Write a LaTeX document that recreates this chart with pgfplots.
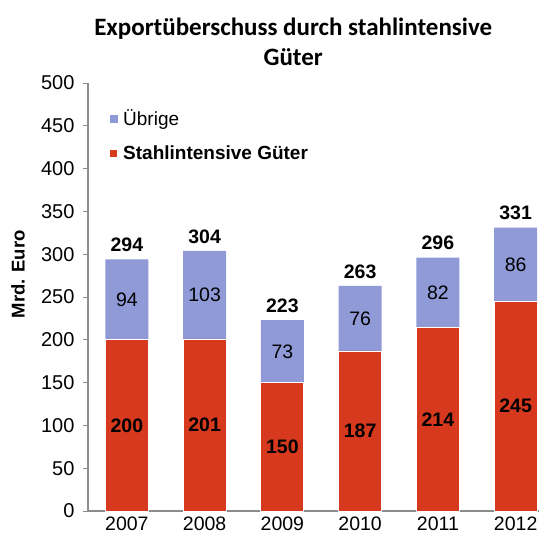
\documentclass[border=0pt]{standalone}
\usepackage{pgfplots}
\usepackage{pgfplotstable}
\pgfplotsset{compat=1.18}
\usepackage{fontspec}
\setmainfont{Liberation Sans}
\newfontfamily\titlefont{Carlito}
\definecolor{redbar}{RGB}{214,57,30}
\definecolor{bluebar}{RGB}{143,154,215}
\definecolor{axgray}{RGB}{140,140,140}

\pgfplotstableread{
x red blue total
0 200 94 294
1 201 103 304
2 150 73 223
3 187 76 263
4 214 82 296
5 245 86 331
}\datatable

\begin{document}
\begin{tikzpicture}
\path[use as bounding box] (-88pt,-25pt) rectangle (451pt,511pt);
\begin{axis}[
  at={(0pt,0pt)}, anchor=south west,
  scale only axis,
  width=451pt, height=428pt,
  xmin=-0.5, xmax=5.3,
  ymin=0, ymax=500,
  ytick={0,50,...,500},
  xtick={0,1,2,3,4,5},
  xticklabels={2007,2008,2009,2010,2011,2012},
  axis lines*=left,
  axis line style={axgray, line width=1.2pt},
  ytick style={axgray, line width=0.8pt},
  xtick style={draw=none},
  tick align=outside,
  major tick length=5pt,
  yticklabel style={xshift=-5pt},
  xticklabel style={inner ysep=1pt, yshift=0pt, font=\fontsize{19.5}{21}\selectfont},
  /pgf/number format/assume math mode=true,
  yticklabel style={font=\fontsize{20}{23}\selectfont},
  ylabel={\textbf{Mrd. Euro}},
  ylabel style={at={(axis description cs:-0.155,0.553)}, anchor=center, rotate=0, font=\fontsize{18.5}{22}\selectfont},
  title={Exportüberschuss durch stahlintensive\\Güter},
  title style={at={(axis description cs:0.455,1.083)}, anchor=center, align=center, font=\titlefont\bfseries\fontsize{25}{30}\selectfont},
  legend style={at={(axis description cs:0.047,0.942)}, anchor=north west, draw=none, fill=none,
    font=\fontsize{19}{22}\selectfont, row sep=14pt, inner sep=0pt},
  legend cell align=left,
  clip=false,
]
\addplot[ybar, bar width=0.553, fill=bluebar, draw=none,
  legend image code/.code={\path[fill=bluebar] (0pt,-4pt) rectangle (8pt,4pt); \path (11pt,0pt);}]
  table[x=x, y=total] {\datatable};
\addlegendentry{Übrige}
\addplot[ybar, bar width=0.553, fill=redbar, draw=white, line width=0.8pt,
  legend image code/.code={\path[fill=redbar] (0pt,-4pt) rectangle (8pt,4pt); \path (11pt,0pt);}]
  table[x=x, y=red] {\datatable};
\addlegendentry{\textbf{Stahlintensive Güter}}
% labels red segment
\addplot[forget plot, draw=none, mark=none, nodes near coords, point meta=explicit symbolic,
  every node near coord/.style={anchor=center, font=\bfseries\fontsize{19.5}{22}\selectfont}]
  table[x=x, y expr=\thisrow{red}/2, meta=red] {\datatable};
% labels blue segment
\addplot[forget plot, draw=none, mark=none, nodes near coords, point meta=explicit symbolic,
  every node near coord/.style={anchor=center, font=\fontsize{19.5}{22}\selectfont}]
  table[x=x, y expr=\thisrow{red}+\thisrow{blue}/2, meta=blue] {\datatable};
% totals
\addplot[forget plot, draw=none, mark=none, nodes near coords, point meta=explicit symbolic,
  every node near coord/.style={anchor=south, yshift=4pt, font=\bfseries\fontsize{19.5}{22}\selectfont}]
  table[x=x, y=total, meta=total] {\datatable};
\end{axis}
\end{tikzpicture}
\end{document}
